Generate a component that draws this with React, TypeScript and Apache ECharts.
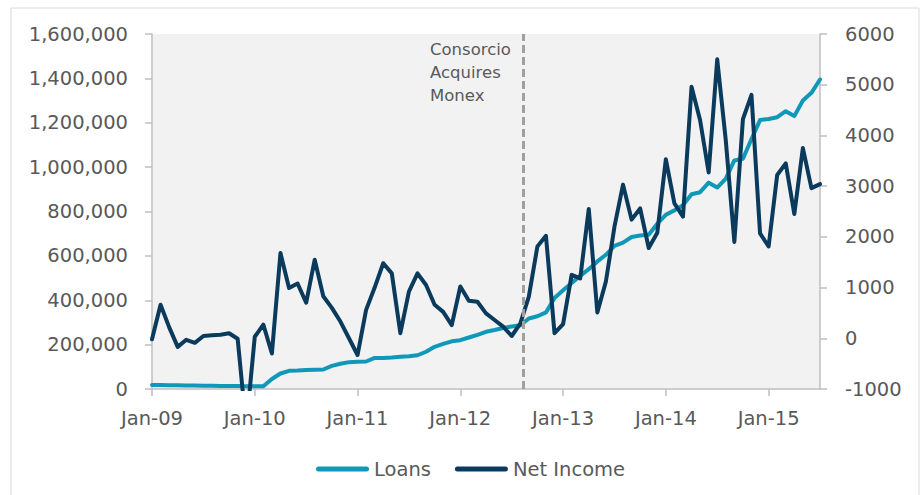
import React, { useEffect, useRef } from "react";
import * as echarts from "echarts";

const monthNames = ["Jan", "Feb", "Mar", "Apr", "May", "Jun", "Jul", "Aug", "Sep", "Oct", "Nov", "Dec"];
const years = ["09", "10", "11", "12", "13", "14", "15"];
const lastYearMonths = 7; // Jan-15 .. Jul-15

const categories: string[] = [];
years.forEach((y, i) => {
  const count = i === years.length - 1 ? lastYearMonths : 12;
  for (let m = 0; m < count; m++) categories.push(`${monthNames[m]}-${y}`);
});

// Loans (left axis)
const loans = [
  18000, 17500, 17000, 16500, 16000, 15500, 15000, 14500, 14000, 13500, 13000, 12500,
  12000, 12000, 45000, 70000, 82000, 83000, 86000, 87000, 88000, 104000, 114000, 121000,
  123000, 124000, 140000, 140000, 142000, 145000, 148000, 152000, 168000, 190000, 203000, 215000,
  220000, 232000, 244000, 258000, 266000, 275000, 282000, 287000, 318000, 328000, 345000, 410000,
  445000, 478000, 510000, 540000, 575000, 605000, 645000, 660000, 685000, 692000, 695000, 745000,
  785000, 805000, 828000, 878000, 887000, 930000, 908000, 948000, 1030000, 1038000, 1127000, 1212000,
  1217000, 1225000, 1252000, 1230000, 1300000, 1335000, 1395000,
];

// Net Income (right axis)
const netIncome = [
  -20, 660, 220, -170, -30, -90, 45, 60, 70, 100, -10, -1750,
  30, 270, -300, 1680, 990, 1080, 700, 1550, 830, 600, 330, 0,
  -330, 560, 1000, 1480, 1280, 100, 920, 1280, 1050, 660, 520, 260,
  1020, 740, 720, 490, 360, 230, 45, 290, 820, 1810, 2020, 100,
  280, 1250, 1180, 2550, 510, 1120, 2200, 3030, 2340, 2560, 1780, 2080,
  3530, 2660, 2400, 4960, 4300, 3270, 5500, 3900, 1900, 4320, 4800, 2070,
  1810, 3220, 3450, 2450, 3750, 2960, 3040,
];

const leftTicks = { min: 0, max: 1600000, interval: 200000 };
const rightTicks = { min: -1000, max: 6000, interval: 1000 };

// Acquisition event position in months since Jan-09 (between Aug-12 and Sep-12)
const acquisitionPosition = 43.35;
const annotationLines = ["Consorcio", "Acquires", "Monex"];

const FONT = "DejaVu Sans";
const TEXT_COLOR = "#595959";
const AXIS_COLOR = "#BFBFBF";
const LOANS_COLOR = "#0F98B7";
const NI_COLOR = "#0A3A5C";

export default function App() {
  const ref = useRef<HTMLDivElement>(null);

  useEffect(() => {
    if (!ref.current) return;
    const chart = echarts.init(ref.current, undefined, { renderer: "svg" });
    const legendIcon = "path://M2.5,0 H50.5 A2.5,2.5 0 0 1 50.5,5 H2.5 A2.5,2.5 0 0 1 2.5,0 Z";

    chart.setOption({
      animation: false,
      backgroundColor: "#ffffff",
      grid: {
        left: 152,
        right: 102,
        top: 34,
        bottom: 106,
        show: true,
        backgroundColor: "#F2F2F2",
        borderWidth: 0,
        containLabel: false,
      },
      legend: {
        left: 311,
        top: 454,
        itemGap: 24,
        itemWidth: 53,
        itemHeight: 5,
        icon: legendIcon,
        textStyle: { color: TEXT_COLOR, fontSize: 19.5, fontFamily: FONT },
        data: [
          { name: "Loans", itemStyle: { color: LOANS_COLOR } },
          { name: "Net Income", itemStyle: { color: NI_COLOR } },
        ],
      },
      graphic: [
        {
          type: "rect",
          shape: { x: 11, y: 8, width: 908, height: 495 },
          style: { fill: "none", stroke: "#D9D9D9", lineWidth: 1 },
          silent: true,
        },
        {
          type: "text",
          left: 430,
          top: 38,
          style: {
            text: annotationLines.join("\n"),
            fill: TEXT_COLOR,
            fontSize: 16.5,
            fontFamily: FONT,
            lineHeight: 23,
          },
          z: 100,
        },
      ],
      xAxis: [
        {
          type: "category",
          data: categories,
          boundaryGap: false,
          axisLine: { lineStyle: { color: AXIS_COLOR, width: 1.5 } },
          axisTick: { interval: 11, length: 7, lineStyle: { color: AXIS_COLOR, width: 1.5 } },
          axisLabel: { interval: 11, margin: 19, color: TEXT_COLOR, fontSize: 19.5, fontFamily: FONT },
          splitLine: { show: false },
        },
        {
          type: "value",
          min: 0,
          max: categories.length - 1,
          show: false,
          splitLine: { show: false },
        },
      ],
      yAxis: [
        {
          type: "value",
          position: "left",
          min: leftTicks.min,
          max: leftTicks.max,
          interval: leftTicks.interval,
          axisLine: { show: true, lineStyle: { color: AXIS_COLOR, width: 1.5 } },
          axisTick: { show: true, length: 7, lineStyle: { color: AXIS_COLOR, width: 1.5 } },
          axisLabel: {
            margin: 24,
            color: TEXT_COLOR,
            fontSize: 19.5,
            fontFamily: FONT,
            formatter: (v: number) => v.toLocaleString("en-US"),
          },
          splitLine: { show: false },
        },
        {
          type: "value",
          position: "right",
          min: rightTicks.min,
          max: rightTicks.max,
          interval: rightTicks.interval,
          axisLine: { show: true, lineStyle: { color: AXIS_COLOR, width: 1.5 } },
          axisTick: { show: true, length: 7, lineStyle: { color: AXIS_COLOR, width: 1.5 } },
          axisLabel: {
            margin: 25,
            color: TEXT_COLOR,
            fontSize: 19.5,
            fontFamily: FONT,
            formatter: (v: number) => String(v),
          },
          splitLine: { show: false },
        },
      ],
      series: [
        {
          name: "Loans",
          type: "line",
          xAxisIndex: 0,
          yAxisIndex: 0,
          data: loans,
          showSymbol: false,
          symbol: "none",
          clip: true,
          lineStyle: { color: LOANS_COLOR, width: 4, cap: "round", join: "round" },
          itemStyle: { color: LOANS_COLOR },
        },
        {
          name: "Net Income",
          type: "line",
          xAxisIndex: 0,
          yAxisIndex: 1,
          data: netIncome,
          showSymbol: false,
          symbol: "none",
          clip: true,
          lineStyle: { color: NI_COLOR, width: 4, cap: "round", join: "round" },
          itemStyle: { color: NI_COLOR },
        },
        {
          name: "Acquisition",
          type: "line",
          xAxisIndex: 1,
          yAxisIndex: 0,
          data: [],
          showSymbol: false,
          markLine: {
            silent: true,
            symbol: ["none", "none"],
            label: { show: false },
            lineStyle: { color: "#A0A0A0", width: 3, type: [8, 4] },
            data: [{ xAxis: acquisitionPosition }],
          },
          z: 10,
        },
      ],
    });

    return () => chart.dispose();
  }, []);

  return (
    <div
      ref={ref}
      style={{ position: "absolute", left: 0, top: 0, width: 922, height: 495 }}
    />
  );
}
